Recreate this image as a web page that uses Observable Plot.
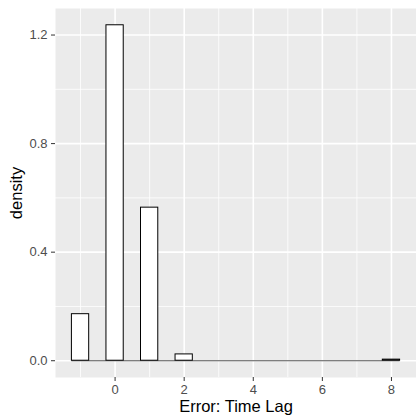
<!DOCTYPE html>
<html>
<head>
<meta charset="utf-8">
<script src="https://cdn.jsdelivr.net/npm/d3@7"></script>
<script src="https://cdn.jsdelivr.net/npm/@observablehq/plot@0.6"></script>
<style>
  html, body { margin: 0; padding: 0; background: white; }
  #chart { width: 416px; height: 418px; }
</style>
</head>
<body>
<div id="chart"></div>
<script>
// Histogram (density) of time-lag errors, binwidth 0.5, bins centered on multiples of 0.5
const binWidth = 0.5;
const binCenters = [-1, -0.5, 0, 0.5, 1, 1.5, 2, 2.5, 3, 3.5, 4, 4.5, 5, 5.5, 6, 6.5, 7, 7.5, 8];
const densities  = [0.1715, 0, 1.236, 0, 0.564, 0, 0.0233, 0, 0, 0, 0, 0, 0, 0, 0, 0, 0, 0, 0.004];
const xTicks = [0, 2, 4, 6, 8];
const yTicks = [0, 0.4, 0.8, 1.2];
const xMinor = [-1, 1, 3, 5, 7];
const yMinor = [0.2, 0.6, 1.0];
const xLabel = "Error: Time Lag";
const yLabel = "density";

const bins = binCenters.map((c, i) => ({x0: c - binWidth / 2, x1: c + binWidth / 2, density: densities[i]}));
const xlo = bins[0].x0, xhi = bins[bins.length - 1].x1;
const xpad = (xhi - xlo) * 0.05;
const ymax = d3.max(densities);
const ypad = ymax * 0.05;
const nonZero = bins.filter(b => b.density > 0);

const chart = Plot.plot({
  width: 416,
  height: 418,
  marginLeft: 55,
  marginRight: 0,
  marginTop: 8,
  marginBottom: 41,
  style: {fontFamily: "'Liberation Sans', Arial, sans-serif", background: "white"},
  x: {domain: [xlo - xpad, xhi + xpad]},
  y: {domain: [-ypad, ymax + ypad]},
  marks: [
    Plot.frame({fill: "#EBEBEB", stroke: null}),
    Plot.gridX(xMinor, {stroke: "white", strokeOpacity: 1, strokeWidth: 0.8}),
    Plot.gridY(yMinor, {stroke: "white", strokeOpacity: 1, strokeWidth: 0.8}),
    Plot.gridX(xTicks, {stroke: "white", strokeOpacity: 1, strokeWidth: 1.6}),
    Plot.gridY(yTicks, {stroke: "white", strokeOpacity: 1, strokeWidth: 1.6}),
    Plot.ruleY([{y: 0, x1: xlo, x2: xhi}], {y: "y", x1: "x1", x2: "x2", stroke: "#555", strokeWidth: 1.2}),
    Plot.rectY(nonZero, {x1: "x0", x2: "x1", y1: 0, y2: "density", fill: "white", stroke: "black", strokeWidth: 1, inset: 0}),
    Plot.axisX(xTicks, {tickSize: 4, tickPadding: 3, fontSize: 13, stroke: "#333333", fill: "#4D4D4D",
      label: xLabel, labelAnchor: "center", labelArrow: "none", labelOffset: 34}),
    Plot.axisY(yTicks, {tickSize: 4, tickPadding: 4, fontSize: 13, stroke: "#333333", fill: "#4D4D4D",
      tickFormat: d3.format(".1f"),
      label: yLabel, labelAnchor: "center", labelArrow: "none", labelOffset: 45})
  ]
});
chart.querySelectorAll("g[aria-label='x-axis label'] text, g[aria-label='y-axis label'] text").forEach(t => {
  t.setAttribute("fill", "black");
  t.style.fontSize = "16.5px";
});
document.getElementById("chart").appendChild(chart);
</script>
</body>
</html>
